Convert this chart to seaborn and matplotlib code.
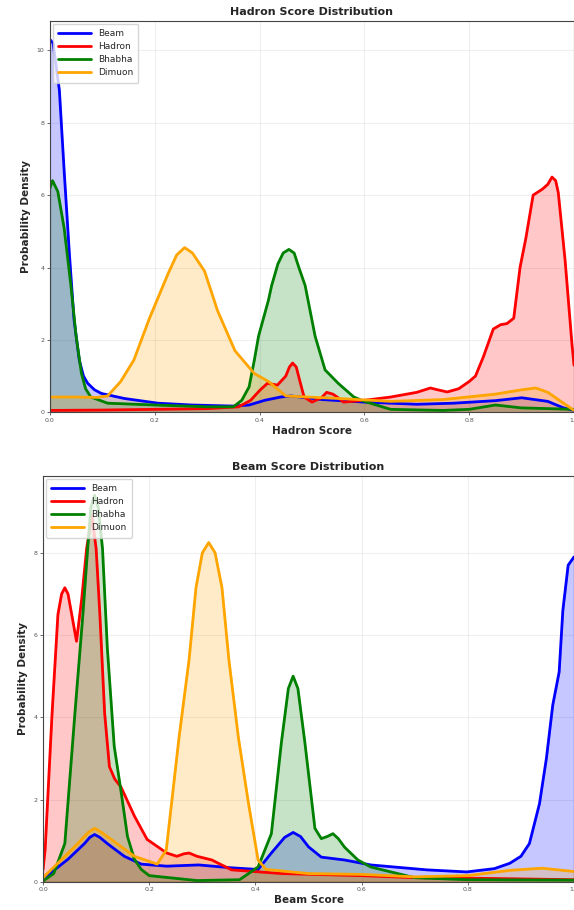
import seaborn as sns
import matplotlib.pyplot as plt

sns.set_style("ticks")

labels = ["Beam", "Hadron", "Bhabha", "Dimuon"]
colors = ["blue", "red", "green", "orange"]

# --- Hadron score densities ---
had_beam_x = [0.0, 0.006, 0.018, 0.027, 0.037, 0.046, 0.056, 0.064, 0.072, 0.085, 0.098, 0.142, 0.206,
              0.27, 0.35, 0.38, 0.41, 0.44, 0.46, 0.49, 0.52, 0.6, 0.7, 0.77, 0.85, 0.9, 0.95, 0.98, 1.0]
had_beam_y = [10.3, 10.2, 8.9, 6.7, 4.4, 2.55, 1.44, 1.0, 0.8, 0.62, 0.52, 0.38, 0.25,
              0.2, 0.17, 0.2, 0.33, 0.42, 0.45, 0.4, 0.35, 0.28, 0.22, 0.25, 0.32, 0.4, 0.3, 0.12, 0.05]

had_hadron_x = [0.0, 0.1, 0.2, 0.3, 0.36, 0.383, 0.4, 0.415, 0.434, 0.45, 0.457, 0.463, 0.47, 0.478,
                0.485, 0.5, 0.518, 0.528, 0.54, 0.55, 0.56, 0.6, 0.65, 0.7, 0.726, 0.74, 0.758, 0.78,
                0.8, 0.812, 0.827, 0.846, 0.86, 0.872, 0.885, 0.897, 0.908, 0.922, 0.94, 0.95, 0.958,
                0.965, 0.97, 0.983, 0.996, 1.0]
had_hadron_y = [0.05, 0.06, 0.08, 0.1, 0.15, 0.33, 0.6, 0.8, 0.75, 1.0, 1.25, 1.36, 1.25, 0.8,
                0.42, 0.28, 0.4, 0.55, 0.5, 0.4, 0.28, 0.33, 0.42, 0.55, 0.67, 0.62, 0.56, 0.65,
                0.85, 1.0, 1.53, 2.3, 2.42, 2.45, 2.6, 4.0, 4.8, 6.0, 6.17, 6.3, 6.5,
                6.4, 6.07, 4.2, 1.9, 1.3]

had_bhabha_x = [0.0, 0.005, 0.015, 0.027, 0.04, 0.05, 0.06, 0.068, 0.078, 0.11, 0.2, 0.3, 0.35, 0.366,
                0.38, 0.39, 0.398, 0.417, 0.423, 0.435, 0.445, 0.456, 0.466, 0.475, 0.487, 0.506,
                0.525, 0.55, 0.58, 0.6, 0.65, 0.75, 0.8, 0.85, 0.9, 0.95, 1.0]
had_bhabha_y = [6.2, 6.4, 6.1, 5.1, 3.5, 2.1, 1.08, 0.65, 0.42, 0.25, 0.2, 0.15, 0.15, 0.33,
                0.7, 1.44, 2.1, 3.1, 3.5, 4.1, 4.4, 4.5, 4.4, 4.0, 3.5, 2.1,
                1.17, 0.8, 0.42, 0.3, 0.08, 0.05, 0.08, 0.2, 0.12, 0.1, 0.08]

had_dimuon_x = [0.0, 0.05, 0.09, 0.11, 0.135, 0.16, 0.19, 0.226, 0.242, 0.257, 0.272, 0.295, 0.32,
                0.353, 0.39, 0.417, 0.45, 0.55, 0.65, 0.75, 0.85, 0.9, 0.927, 0.95, 0.98, 1.0]
had_dimuon_y = [0.42, 0.42, 0.41, 0.45, 0.85, 1.44, 2.6, 3.85, 4.35, 4.55, 4.4, 3.9, 2.8,
                1.7, 1.07, 0.85, 0.45, 0.38, 0.3, 0.35, 0.5, 0.62, 0.67, 0.55, 0.25, 0.05]

# --- Beam score densities ---
beam_beam_x = [0.0, 0.047, 0.078, 0.088, 0.097, 0.107, 0.121, 0.153, 0.185, 0.233, 0.293, 0.355, 0.405,
               0.43, 0.455, 0.471, 0.485, 0.5, 0.524, 0.568, 0.617, 0.723, 0.798, 0.85, 0.879, 0.9,
               0.916, 0.935, 0.948, 0.96, 0.972, 0.979, 0.989, 1.0]
beam_beam_y = [0.07, 0.55, 0.93, 1.08, 1.15, 1.08, 0.93, 0.62, 0.43, 0.38, 0.41, 0.34, 0.3,
               0.7, 1.08, 1.2, 1.1, 0.85, 0.6, 0.53, 0.41, 0.29, 0.24, 0.32, 0.45, 0.62,
               0.93, 1.9, 3.0, 4.3, 5.1, 6.6, 7.7, 7.9]

beam_hadron_x = [0.0, 0.004, 0.017, 0.028, 0.035, 0.041, 0.047, 0.054, 0.063, 0.073, 0.082, 0.092,
                 0.1, 0.107, 0.116, 0.125, 0.135, 0.147, 0.172, 0.196, 0.233, 0.252, 0.265, 0.275,
                 0.29, 0.318, 0.355, 0.45, 0.6, 0.7, 0.85, 1.0]
beam_hadron_y = [0.3, 0.8, 4.1, 6.5, 7.0, 7.15, 7.0, 6.5, 5.85, 6.9, 8.1, 8.9,
                 8.1, 6.5, 4.1, 2.8, 2.5, 2.3, 1.6, 1.03, 0.7, 0.62, 0.68, 0.7,
                 0.62, 0.53, 0.29, 0.2, 0.15, 0.1, 0.08, 0.05]

beam_bhabha_x = [0.0, 0.02, 0.041, 0.06, 0.075, 0.084, 0.09, 0.097, 0.104, 0.112, 0.121, 0.134,
                 0.148, 0.159, 0.172, 0.185, 0.2, 0.29, 0.37, 0.405, 0.43, 0.449, 0.462, 0.471,
                 0.48, 0.493, 0.512, 0.524, 0.535, 0.546, 0.556, 0.568, 0.593, 0.617, 0.7, 0.8, 1.0]
beam_bhabha_y = [0.02, 0.2, 0.93, 4.1, 6.5, 8.1, 9.1, 9.4, 9.1, 8.1, 5.7, 3.3,
                 2.1, 1.1, 0.55, 0.3, 0.15, 0.03, 0.05, 0.36, 1.17, 3.4, 4.7, 5.0,
                 4.7, 3.4, 1.3, 1.05, 1.1, 1.17, 1.05, 0.84, 0.53, 0.36, 0.1, 0.05, 0.04]

beam_dimuon_x = [0.0, 0.06, 0.085, 0.097, 0.108, 0.121, 0.172, 0.215, 0.232, 0.256, 0.275, 0.288,
                 0.3, 0.312, 0.324, 0.337, 0.35, 0.368, 0.387, 0.405, 0.42, 0.5, 0.6, 0.7, 0.8,
                 0.88, 0.94, 1.0]
beam_dimuon_y = [0.1, 0.86, 1.2, 1.3, 1.22, 1.1, 0.62, 0.43, 0.77, 3.5, 5.4, 7.15,
                 8.0, 8.25, 8.0, 7.15, 5.4, 3.5, 1.9, 0.53, 0.3, 0.2, 0.18, 0.12, 0.15,
                 0.28, 0.33, 0.25]

panels = [
    ("Hadron Score Distribution", "Hadron Score",
     [(had_beam_x, had_beam_y), (had_hadron_x, had_hadron_y),
      (had_bhabha_x, had_bhabha_y), (had_dimuon_x, had_dimuon_y)],
     [0.087, 0.547, 0.913, 0.430]),
    ("Beam Score Distribution", "Beam Score",
     [(beam_beam_x, beam_beam_y), (beam_hadron_x, beam_hadron_y),
      (beam_bhabha_x, beam_bhabha_y), (beam_dimuon_x, beam_dimuon_y)],
     [0.075, 0.031, 0.925, 0.446]),
]

fig = plt.figure(figsize=(5.74, 9.10), dpi=100)

for title, xlabel, series, pos in panels:
    ax = fig.add_axes(pos)
    ymax = 0
    for (xs, ys), lab, col in zip(series, labels, colors):
        sns.lineplot(x=xs, y=ys, color=col, linewidth=2, label=lab, ax=ax)
        ax.fill_between(xs, ys, color=col, alpha=0.22)
        ymax = max(ymax, max(ys))
    ax.set_xlim(0, 1)
    ax.set_ylim(0, ymax * 1.05)
    ax.set_title(title, fontsize=8, fontweight="bold", pad=4)
    ax.set_xlabel(xlabel, fontsize=7.5, fontweight="bold", labelpad=2)
    ax.set_ylabel("Probability Density", fontsize=7.5, fontweight="bold", labelpad=4)
    ax.tick_params(labelsize=4.5, length=2, width=0.6, pad=2, colors="#555555")
    ax.grid(True, alpha=0.3)
    for s in ax.spines.values():
        s.set_color("#444444")
    ax.legend(loc="upper left", fontsize=6.5, framealpha=0.8, handlelength=3.6,
              borderpad=0.6, labelspacing=0.45, borderaxespad=0.3)

plt.savefig("out.png", dpi=100)
